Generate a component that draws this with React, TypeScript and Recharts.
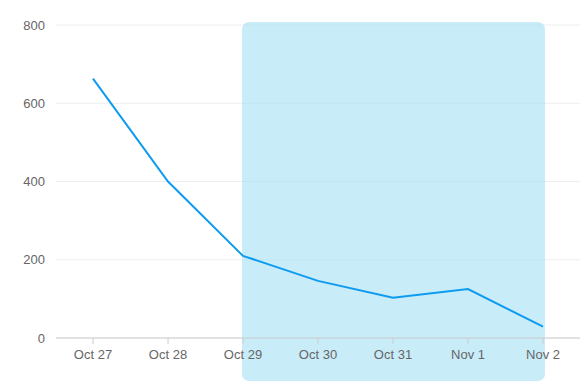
import { LineChart, Line, XAxis, YAxis, CartesianGrid, ReferenceArea } from 'recharts';

const days = ['Oct 27', 'Oct 28', 'Oct 29', 'Oct 30', 'Oct 31', 'Nov 1', 'Nov 2'];
const values = [663, 400, 210, 146, 103, 125, 29];
const yTicks = [0, 200, 400, 600, 800];
const highlightFrom = 'Oct 29';
const highlightTo = 'Nov 2';

const data = days.map((day, i) => ({ day, value: values[i] }));

// highlight spills a little past the plot area, like the original
function HighlightShape(props: any) {
  const { x, y, width, height } = props;
  return <rect x={x - 1} y={y - 3} width={width + 3} height={height + 46} rx={7} ry={7} fill="#a5dff5" fillOpacity={0.6} />;
}

export default function App() {
  const tickStyle = { fill: '#666', fontSize: 13, fontFamily: '"Liberation Sans", Arial, sans-serif' };
  return (
    <LineChart width={580} height={379} data={data} margin={{ top: 17, right: 8, left: 0, bottom: 19 }}>
      <CartesianGrid stroke="#eeeeee" vertical={false} />
      <XAxis dataKey="day" padding={{ left: 37, right: 37 }} tick={tickStyle} tickMargin={6}
        axisLine={{ stroke: '#cccccc' }} tickLine={{ stroke: '#cccccc' }} />
      <YAxis domain={[0, 800]} ticks={yTicks} width={48} axisLine={false} tickLine={false} tick={tickStyle} tickMargin={5} />
      <ReferenceArea x1={highlightFrom} x2={highlightTo} ifOverflow="visible" shape={HighlightShape} />
      <Line type="linear" dataKey="value" stroke="#0d9bf0" strokeWidth={2} dot={false} isAnimationActive={false} />
    </LineChart>
  );
}
